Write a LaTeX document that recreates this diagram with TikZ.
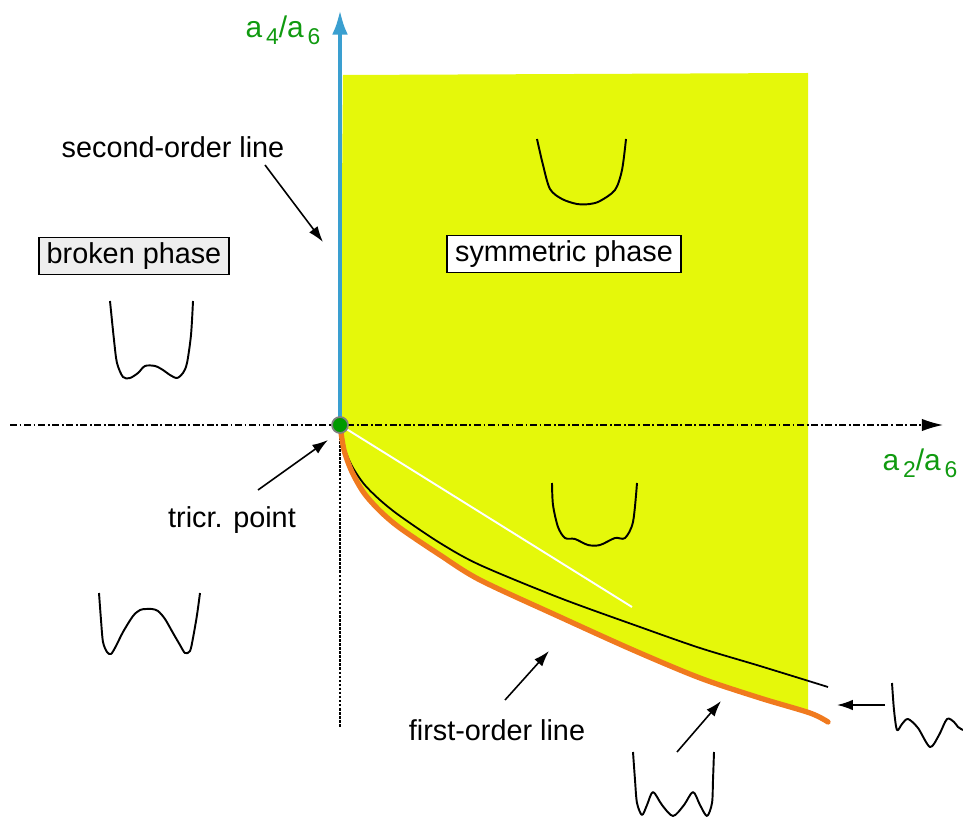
\documentclass[tikz,border=0pt]{standalone}
\usepackage{fontspec}
\setmainfont{Liberation Sans}
\usetikzlibrary{arrows.meta,positioning}
\definecolor{symyellow}{HTML}{E5F80A}
\definecolor{firstorange}{HTML}{F07A1E}
\definecolor{secondblue}{HTML}{3A9FD0}
\definecolor{axgreen}{HTML}{109A10}
\definecolor{boxgray}{HTML}{EEEEEE}
\newcommand{\axsub}[1]{\raisebox{-0.45ex}{\fontsize{13}{15}\selectfont\,#1}}

\begin{document}
\begin{tikzpicture}[x=0.02cm,y=-0.02cm,>=Latex,
  lbl/.style={font=\fontsize{16.4}{19}\selectfont},
  axlbl/.style={text=axgreen,font=\fontsize{17}{20}\selectfont},
  phasebox/.style={draw,line width=0.9pt,inner xsep=4.5pt,inner ysep=3pt,font=\fontsize{16.4}{19}\selectfont},
  pot/.style={line width=1.1pt,line join=round},
  ann/.style={line width=0.9pt,-{Latex[length=9pt,width=6pt]}},
  axis/.style={line width=0.8pt,dash pattern=on 4pt off 1.5pt on 1pt off 1.5pt,
    -{Latex[length=12pt,width=7pt]}}]
  \useasboundingbox (0,0) rectangle (963,820);

  % symmetric phase region
  \fill[symyellow] (343,75) -- (808,73) -- (808,713)
    -- plot[smooth] coordinates {(808,713) (760,698) (700,678) (633,650) (560,617)
      (480,580) (440,555) (400,528) (380,511) (364,493) (352,472) (344,450) (340,425)}
    -- cycle;

  % axes
  \coordinate (xl) at (10,425);
  \coordinate (xr) at (943,425);
  \coordinate (ytop) at (340,10);
  \coordinate (ybot) at (340,728);
  \node[circle,inner sep=0,minimum size=0.32cm] (O) at (340,425) {};
  \draw[axis] (xl) -- (xr);
  \draw[line width=0.8pt,dash pattern=on 1.5pt off 0.8pt] (O.center) -- (ybot);
  \draw[secondblue,line width=2.3pt,-{Latex[length=14pt,width=9pt]}] (O.center) -- (ytop);
  \node[axlbl] (ya) at (283,30) {a\axsub{4}/a\axsub{6}};
  \node[axlbl] (xa) at (920,463) {a\axsub{2}/a\axsub{6}};

  % lines from the tricritical point
  \coordinate (wend) at (632,607);
  \draw[white,line width=1.1pt] (O.center) -- (wend);
  \draw[line width=1pt] plot[smooth] coordinates {(340,425) (344,447) (352,466) (364,484)
    (380,500) (400,516) (440,543) (480,565) (560,598) (640,627) (700,648) (760,666)
    (828,687)};
  \draw[firstorange,line width=3pt,line cap=round] plot[smooth] coordinates {(340,425)
    (344,450) (352,472) (364,493) (380,511) (400,528) (440,555) (480,580) (560,617)
    (633,650) (700,678) (760,698) (810,713) (828,722)};
  \node[circle,fill=green!60!black,draw=gray,line width=1pt,inner sep=0,
    minimum size=0.32cm] at (O) {};

  % phase labels
  \node[phasebox,fill=boxgray] (broken) at (134,256) {broken phase};
  \node[phasebox,fill=white] (symm) at (564,254) {symmetric phase};

  % annotations
  \node[lbl] (sol) at (173,147) {second-order line};
  \coordinate (sola) at (265,165);
  \coordinate (solb) at (323,242);
  \draw[ann] (sola) -- (solb);
  \node[lbl] (tri) at (232,520) {tricr. point};
  \coordinate (tria) at (258,490);
  \coordinate (trib) at (328,440);
  \draw[ann] (tria) -- (trib);
  \node[lbl] (fol) at (497,730) {first-order line};
  \coordinate (fola) at (505,700);
  \coordinate (folb) at (549,651);
  \draw[ann] (fola) -- (folb);
  \coordinate (folc) at (677,752);
  \coordinate (fold) at (721,701);
  \draw[ann] (folc) -- (fold);
  \coordinate (mete) at (885,705);
  \coordinate (metf) at (837,705);
  \draw[ann] (mete) -- (metf);

  % potential sketches
  \draw[pot] plot[smooth] coordinates {(110,301) (114,340) (117,363) (123,377) (130,378)
    (138,373) (145,366) (155,366) (163,370) (170,375) (177,378) (183,373) (187,363)
    (191,335) (193,301)};
  \draw[pot] plot[smooth] coordinates {(537,139) (543,165) (550,189) (562,199) (577,204)
    (590,204) (600,201) (615,190) (622,170) (626,139)};
  \draw[pot] plot[smooth] coordinates {(552,483) (553,505) (558,527) (565,538) (575,539)
    (588,545) (600,545) (615,538) (625,538) (633,522) (637,483)};
  \draw[pot] plot[smooth] coordinates {(99,593) (101,620) (103,642) (107,652) (111,654)
    (116,646) (123,632) (133,616) (140,610) (146,609) (152,609) (158,611) (165,619)
    (173,633) (180,645) (185,653) (190,651) (193,638) (197,615) (200,593)};
  \draw[pot] plot[smooth] coordinates {(633,752) (635,780) (637,803) (642,815) (647,805)
    (653,792) (662,805) (673,816) (684,805) (693,792) (700,805) (707,816) (712,803)
    (713,780) (714,752)};
  \draw[pot] plot[smooth] coordinates {(892,683) (894,710) (897,730) (902,724) (908,719)
    (918,728) (930,747) (939,735) (947,719) (954,722) (958,727) (963,730)};
\end{tikzpicture}
\end{document}
